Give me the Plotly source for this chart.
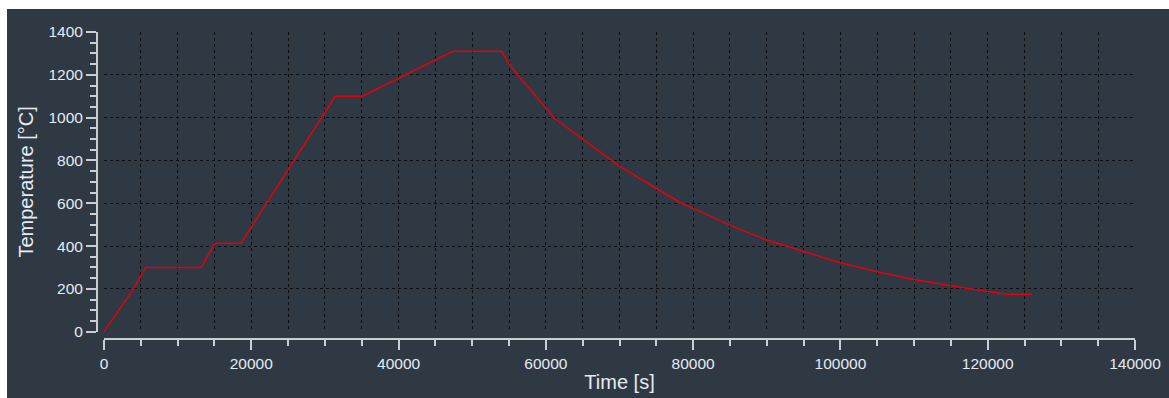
import plotly.graph_objects as go

# Furnace temperature program
time_s = [0, 4000, 5650, 13200, 15050, 18600, 31400, 35100, 47400, 54000,
          55000, 56000, 60000, 61200, 65000, 68900, 70000, 75000, 78400, 80000,
          85000, 90000, 95000, 100000, 105000, 110000, 115000, 120000, 122500, 126000]
temp_c = [0, 200, 300, 300, 413, 414, 1100, 1100, 1310, 1310,
          1252, 1207, 1045, 996, 900, 800, 773, 669, 600, 576,
          498, 428, 376, 322, 280, 244, 215, 190, 175, 175]

W, H = 1169, 398
ML, MR, MT, MB = 97, 34, 32, 59          # axis lines sit at the margin edges
PW, PH = W - ML - MR, H - MT - MB
GAP_X, GAP_Y = 7, 7.3                    # offset between axis lines and plot area

BG = "#2f3944"
TXT = "#e4ebf2"
AXC = "#c9ced3"
FONT = "Liberation Sans, Arial, sans-serif"

fig = go.Figure()
fig.add_trace(go.Scatter(
    x=time_s, y=temp_c, mode="lines",
    line=dict(color="#e3000f", width=1.5),
    hoverinfo="x+y", showlegend=False,
))

grid = dict(gridcolor="#0d0f12", griddash="dot", gridwidth=1)

fig.update_xaxes(
    range=[0, 140000], domain=[GAP_X / PW, 1],
    anchor="free", position=0, automargin=False,
    tickmode="linear", tick0=0, dtick=20000, tickformat="d",
    showgrid=True, **grid,
    zeroline=False,
    showline=True, linecolor=AXC, linewidth=2,
    ticks="outside", ticklen=10, tickcolor=AXC, tickwidth=2,
    minor=dict(dtick=5000, tick0=0, ticks="outside", ticklen=6,
               tickcolor=AXC, tickwidth=2, showgrid=True, **grid),
    tickfont=dict(family=FONT, size=15.5, color=TXT),
    title=dict(text="Time [s]", font=dict(family=FONT, size=20, color=TXT),
               standoff=3),
    fixedrange=True,
)
fig.update_yaxes(
    range=[0, 1400], domain=[GAP_Y / PH, 1],
    anchor="free", position=0, automargin=False,
    tickmode="linear", tick0=0, dtick=200, tickformat="d",
    showgrid=True, **grid,
    zeroline=False,
    showline=True, linecolor=AXC, linewidth=2,
    ticks="outside", ticklen=10, tickcolor=AXC, tickwidth=2,
    minor=dict(dtick=50, tick0=0, ticks="outside", ticklen=6,
               tickcolor=AXC, tickwidth=2, showgrid=False),
    tickfont=dict(family=FONT, size=15.5, color=TXT),
    title=dict(text="Temperature [°C]", font=dict(family=FONT, size=20, color=TXT),
               standoff=8),
    fixedrange=True,
)

# white page strip along the top and left edges
def px_x(px):
    return (px - ML) / PW

def px_y(py):
    return (H - MB - py) / PH

fig.add_shape(type="rect", xref="paper", yref="paper",
              x0=px_x(0), x1=px_x(W + 5), y0=px_y(9), y1=px_y(-5),
              fillcolor="white", line_width=0, layer="above")
fig.add_shape(type="rect", xref="paper", yref="paper",
              x0=px_x(-5), x1=px_x(7), y0=px_y(H + 5), y1=px_y(-5),
              fillcolor="white", line_width=0, layer="above")

fig.update_layout(
    width=W, height=H, autosize=False,
    margin=dict(l=ML, r=MR, t=MT, b=MB, pad=0),
    paper_bgcolor=BG, plot_bgcolor=BG,
    font=dict(family=FONT, color=TXT),
)

fig.write_html("out.html", config={"displayModeBar": False})
